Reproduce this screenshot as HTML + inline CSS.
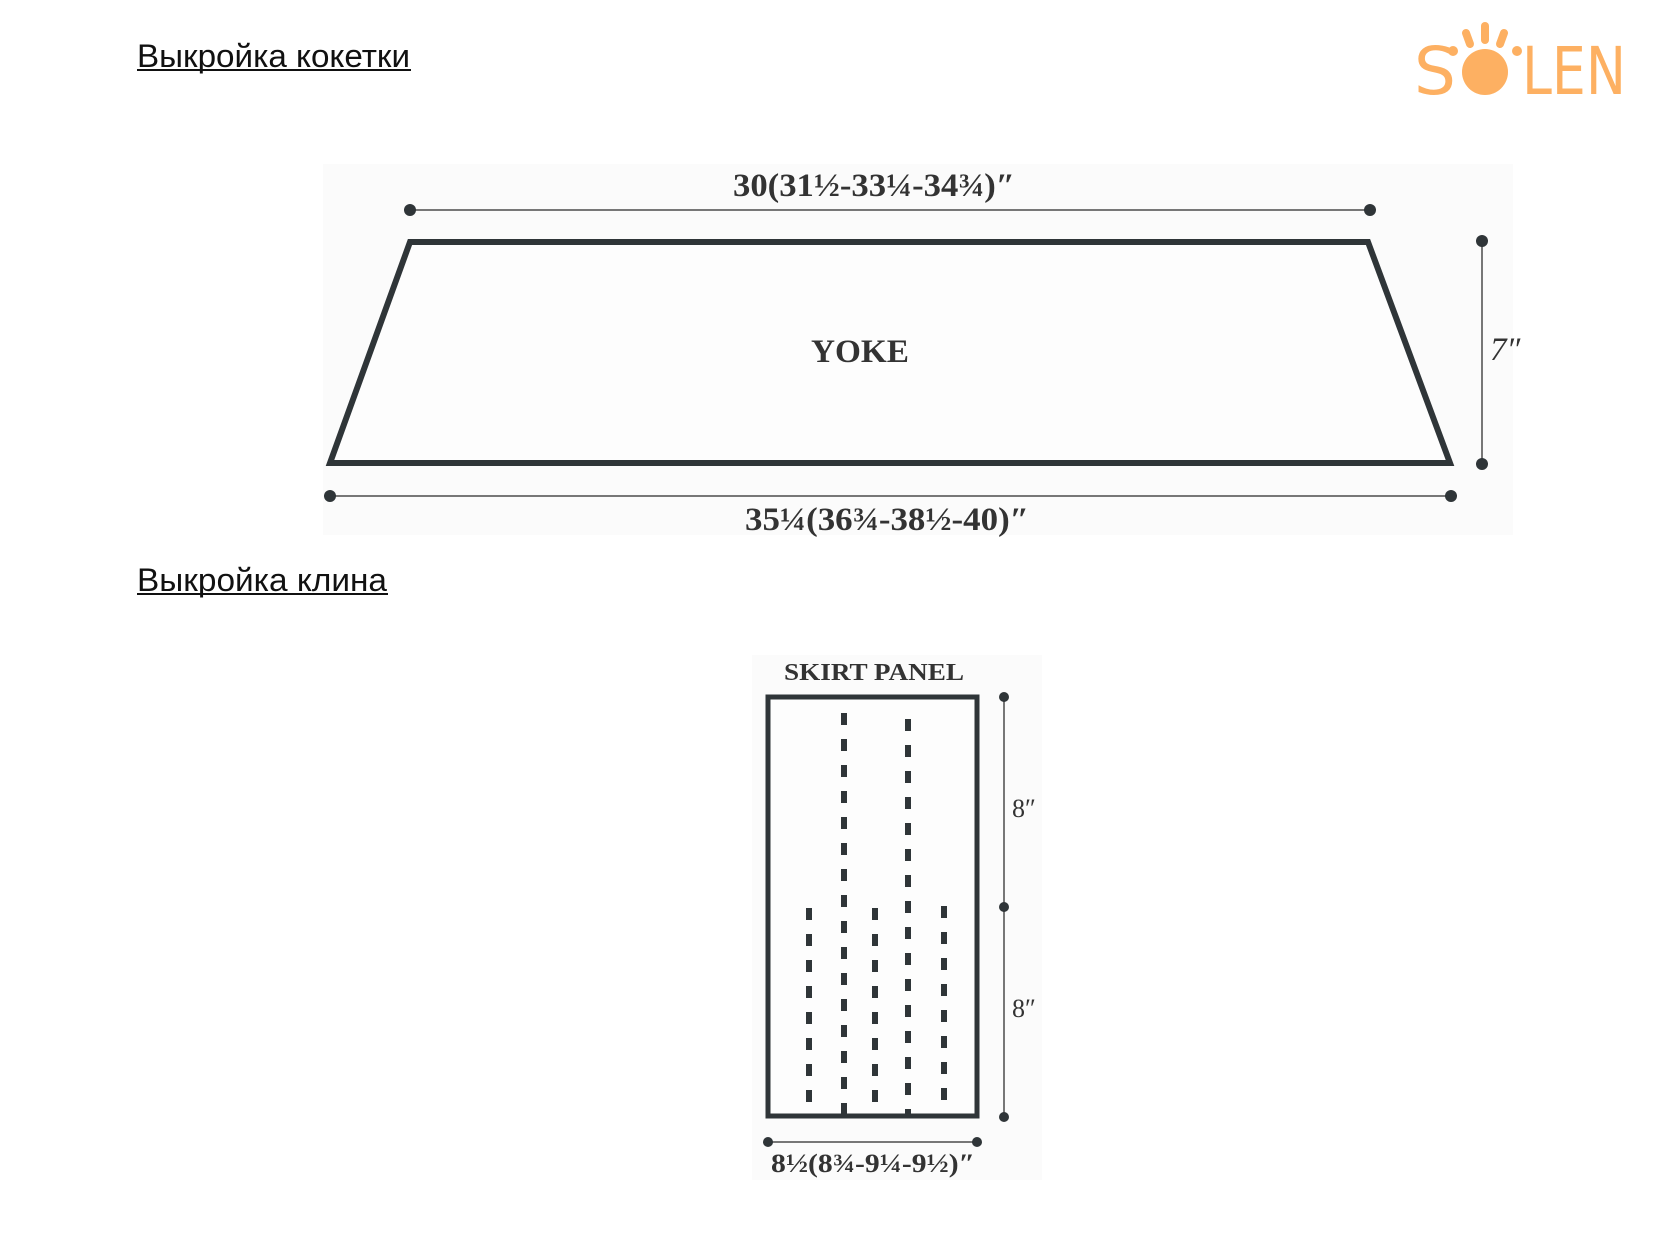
<!DOCTYPE html>
<html><head><meta charset="utf-8"><style>
html,body{margin:0;padding:0;background:#fff;}
svg{display:block;}
</style></head><body>
<svg width="1654" height="1260" viewBox="0 0 1654 1260" xmlns="http://www.w3.org/2000/svg">
<rect x="0" y="0" width="1654" height="1260" fill="#fff"/>
<!-- headings -->
<text x="137" y="67" font-family="Liberation Sans, sans-serif" font-size="32" fill="#111" textLength="273" lengthAdjust="spacingAndGlyphs">Выкройка кокетки</text>
<rect x="137" y="69" width="274" height="2" fill="#111"/>
<text x="137" y="591" font-family="Liberation Sans, sans-serif" font-size="32" fill="#111" textLength="250" lengthAdjust="spacingAndGlyphs">Выкройка клина</text>
<rect x="137" y="593" width="251" height="2" fill="#111"/>

<!-- logo -->
<g fill="#fdb062">
<text x="1414" y="94" font-family="DejaVu Sans, sans-serif" font-size="66">S</text>
<circle cx="1485" cy="72" r="23"/>
<text x="1522" y="94" font-family="DejaVu Sans, sans-serif" font-size="66" textLength="104" lengthAdjust="spacingAndGlyphs">LEN</text>
<g stroke="#fdb062" stroke-linecap="round" stroke-width="8">
<line x1="1485" y1="26" x2="1485" y2="40"/>
<line x1="1466" y1="33" x2="1470" y2="44"/>
<line x1="1504" y1="33" x2="1500" y2="44"/>
</g>
<circle cx="1453" cy="51" r="5"/>
<circle cx="1517" cy="51" r="5"/>
</g>

<!-- yoke -->
<rect x="323" y="164" width="1190" height="371" fill="#fbfbfb"/>
<polygon points="410,242 1368,242 1450,463 330,463" fill="#fdfdfd" stroke="#2f3538" stroke-width="6" stroke-linejoin="miter"/>
<g stroke="#777" stroke-width="2">
<line x1="410" y1="210" x2="1370" y2="210"/>
<line x1="330" y1="496" x2="1451" y2="496"/>
<line x1="1482" y1="241" x2="1482" y2="464"/>
</g>
<g fill="#2f3538">
<circle cx="410" cy="210" r="6"/><circle cx="1370" cy="210" r="6"/>
<circle cx="330" cy="496" r="6"/><circle cx="1451" cy="496" r="6"/>
<circle cx="1482" cy="241" r="6"/><circle cx="1482" cy="464" r="6"/>
</g>
<g font-family="Liberation Serif, serif" fill="#333" font-size="33" font-weight="bold">
<text x="874" y="196" text-anchor="middle" textLength="282" lengthAdjust="spacingAndGlyphs">30(31½-33¼-34¾)″</text>
<text x="860" y="362" text-anchor="middle" textLength="98" lengthAdjust="spacingAndGlyphs">YOKE</text>
<text x="887" y="530" text-anchor="middle" textLength="284" lengthAdjust="spacingAndGlyphs">35¼(36¾-38½-40)″</text>
<text x="1490" y="360" font-style="italic" font-weight="normal">7″</text>
</g>

<!-- skirt panel -->
<rect x="752" y="655" width="290" height="525" fill="#fbfbfb"/>
<rect x="768" y="697" width="209" height="419" fill="#fdfdfd" stroke="#2f3538" stroke-width="5"/>
<g stroke="#2f3538" stroke-width="6" stroke-dasharray="12 14">
<line x1="809" y1="908" x2="809" y2="1114"/>
<line x1="844" y1="713" x2="844" y2="1116"/>
<line x1="875" y1="908" x2="875" y2="1114"/>
<line x1="908" y1="719" x2="908" y2="1114"/>
<line x1="944" y1="906" x2="944" y2="1114"/>
</g>
<g stroke="#777" stroke-width="2">
<line x1="1004" y1="697" x2="1004" y2="1117"/>
<line x1="768" y1="1142" x2="977" y2="1142"/>
</g>
<g fill="#2f3538">
<circle cx="1004" cy="697" r="5"/><circle cx="1004" cy="907" r="5"/><circle cx="1004" cy="1117" r="5"/>
<circle cx="768" cy="1142" r="5"/><circle cx="977" cy="1142" r="5"/>
</g>
<g font-family="Liberation Serif, serif" fill="#333" font-weight="bold">
<text x="874" y="680" text-anchor="middle" font-size="24" textLength="180" lengthAdjust="spacingAndGlyphs">SKIRT PANEL</text>
<text x="873" y="1172" text-anchor="middle" font-size="26" textLength="204" lengthAdjust="spacingAndGlyphs">8½(8¾-9¼-9½)″</text>
<text x="1012" y="817" font-size="26" font-weight="normal">8″</text>
<text x="1012" y="1017" font-size="26" font-weight="normal">8″</text>
</g>
</svg>
</body></html>
